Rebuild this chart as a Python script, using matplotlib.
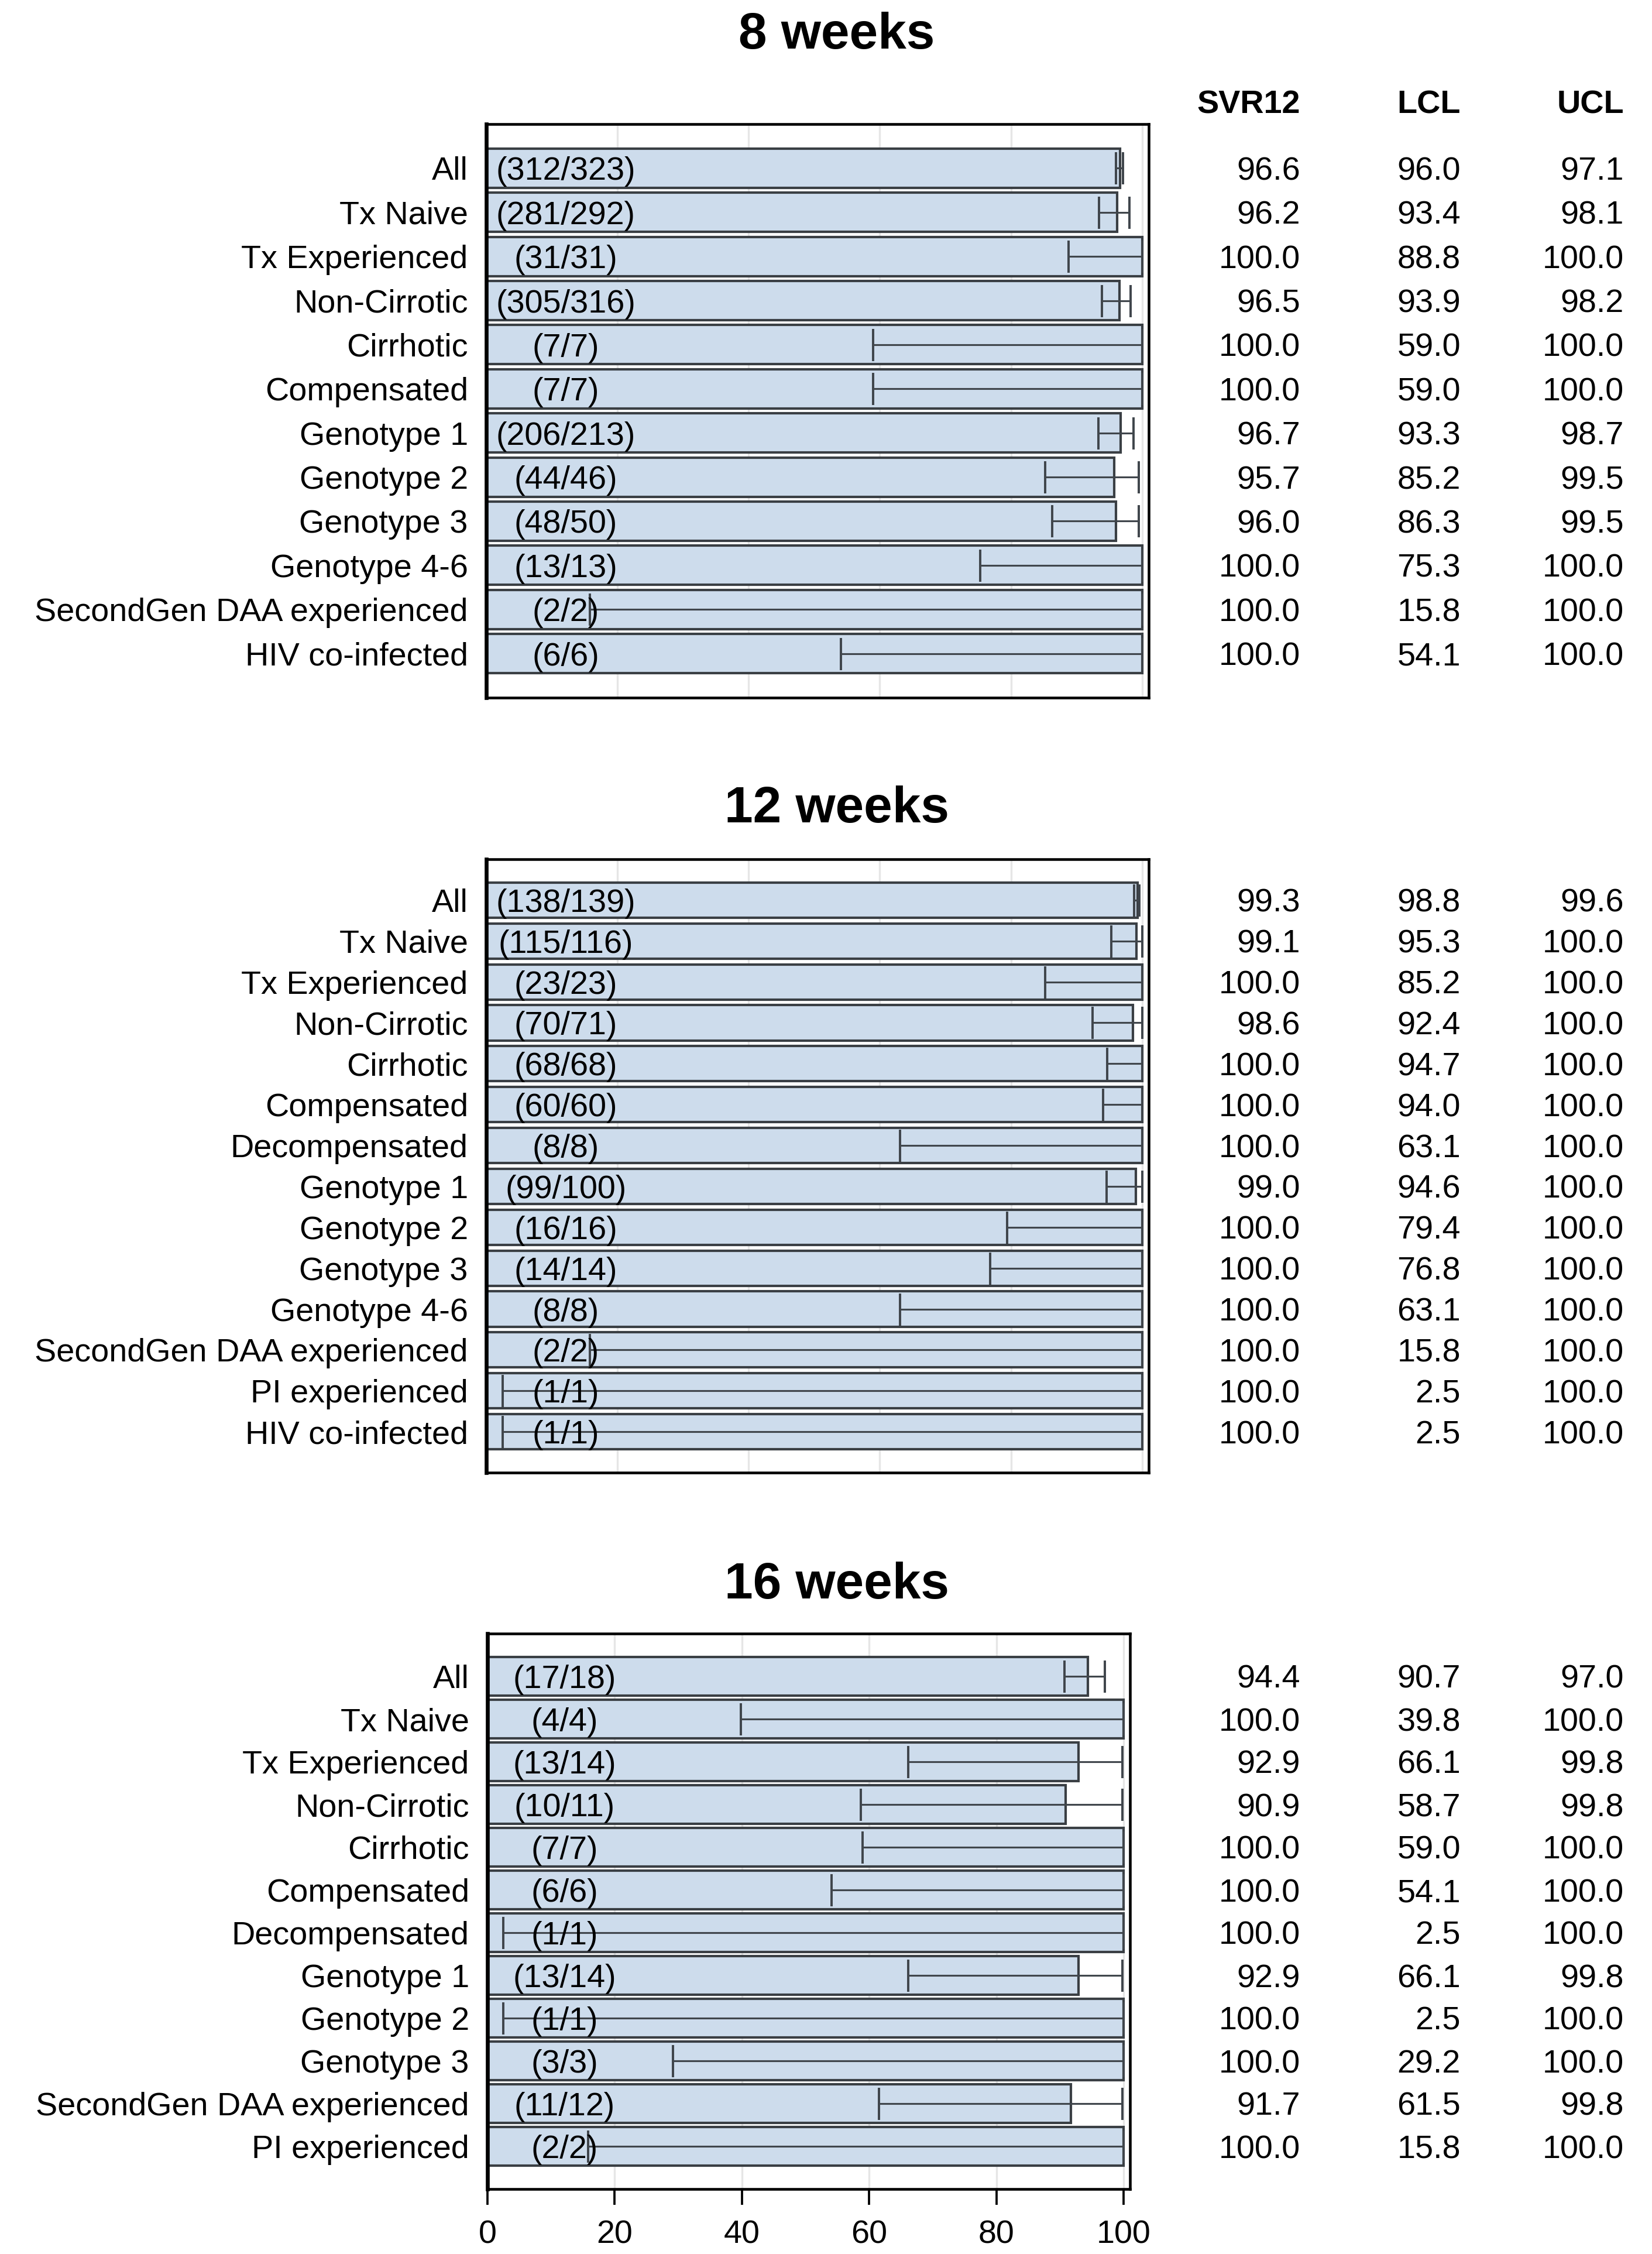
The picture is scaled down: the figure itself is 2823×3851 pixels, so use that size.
import numpy as np
import matplotlib.pyplot as plt
import matplotlib.transforms as mtransforms

plt.rcParams['font.family'] = ['Liberation Sans', 'DejaVu Sans']

# ---- data: 8 weeks
labels_8 = ['All', 'Tx Naive', 'Tx Experienced', 'Non-Cirrotic', 'Cirrhotic', 'Compensated',
            'Genotype 1', 'Genotype 2', 'Genotype 3', 'Genotype 4-6',
            'SecondGen DAA experienced', 'HIV co-infected']
counts_8 = ['(312/323)', '(281/292)', '(31/31)', '(305/316)', '(7/7)', '(7/7)',
            '(206/213)', '(44/46)', '(48/50)', '(13/13)', '(2/2)', '(6/6)']
svr_8 = [96.6, 96.2, 100.0, 96.5, 100.0, 100.0, 96.7, 95.7, 96.0, 100.0, 100.0, 100.0]
lcl_8 = [96.0, 93.4, 88.8, 93.9, 59.0, 59.0, 93.3, 85.2, 86.3, 75.3, 15.8, 54.1]
ucl_8 = [97.1, 98.1, 100.0, 98.2, 100.0, 100.0, 98.7, 99.5, 99.5, 100.0, 100.0, 100.0]

# ---- data: 12 weeks
labels_12 = ['All', 'Tx Naive', 'Tx Experienced', 'Non-Cirrotic', 'Cirrhotic', 'Compensated',
             'Decompensated', 'Genotype 1', 'Genotype 2', 'Genotype 3', 'Genotype 4-6',
             'SecondGen DAA experienced', 'PI experienced', 'HIV co-infected']
counts_12 = ['(138/139)', '(115/116)', '(23/23)', '(70/71)', '(68/68)', '(60/60)', '(8/8)',
             '(99/100)', '(16/16)', '(14/14)', '(8/8)', '(2/2)', '(1/1)', '(1/1)']
svr_12 = [99.3, 99.1, 100.0, 98.6, 100.0, 100.0, 100.0, 99.0, 100.0, 100.0, 100.0, 100.0, 100.0, 100.0]
lcl_12 = [98.8, 95.3, 85.2, 92.4, 94.7, 94.0, 63.1, 94.6, 79.4, 76.8, 63.1, 15.8, 2.5, 2.5]
ucl_12 = [99.6, 100.0, 100.0, 100.0, 100.0, 100.0, 100.0, 100.0, 100.0, 100.0, 100.0, 100.0, 100.0, 100.0]

# ---- data: 16 weeks
labels_16 = ['All', 'Tx Naive', 'Tx Experienced', 'Non-Cirrotic', 'Cirrhotic', 'Compensated',
             'Decompensated', 'Genotype 1', 'Genotype 2', 'Genotype 3',
             'SecondGen DAA experienced', 'PI experienced']
counts_16 = ['(17/18)', '(4/4)', '(13/14)', '(10/11)', '(7/7)', '(6/6)', '(1/1)',
             '(13/14)', '(1/1)', '(3/3)', '(11/12)', '(2/2)']
svr_16 = [94.4, 100.0, 92.9, 90.9, 100.0, 100.0, 100.0, 92.9, 100.0, 100.0, 91.7, 100.0]
lcl_16 = [90.7, 39.8, 66.1, 58.7, 59.0, 54.1, 2.5, 66.1, 2.5, 29.2, 61.5, 15.8]
ucl_16 = [97.0, 100.0, 99.8, 99.8, 100.0, 100.0, 100.0, 99.8, 100.0, 100.0, 99.8, 100.0]

headers = ['SVR12', 'LCL', 'UCL']
xticks = [0, 20, 40, 60, 80, 100]

W, H = 2823, 3851
fig = plt.figure(figsize=(W / 300, H / 300), dpi=300)

fill = '#cddcec'
edge = '#3a3f44'
fs = 13.4

# (title, labels, counts, svr, lcl, ucl, [left, top, right, bottom] px, title y px, bar height, show x axis)
panels = [
    ('8 weeks', labels_8, counts_8, svr_8, lcl_8, ucl_8, [831, 212, 1963, 1192], 61, 0.89, False),
    ('12 weeks', labels_12, counts_12, svr_12, lcl_12, ucl_12, [831, 1468, 1963, 2516], 1383, 0.86, False),
    ('16 weeks', labels_16, counts_16, svr_16, lcl_16, ucl_16, [833, 2791, 1931, 3740], 2708, 0.91, True),
]

col_x = [2222 / W, 2496 / W, 2775 / W]

for title, labs, cnts, s, lo, hi, box, ty, bh, showx in panels:
    l, t, r, b = box
    ax = fig.add_axes([l / W, 1 - b / H, (r - l) / W, (b - t) / H])
    s = np.array(s); lo = np.array(lo); hi = np.array(hi)
    rows = np.arange(len(labs))
    ax.barh(rows, s, height=bh, color=fill, edgecolor=edge, linewidth=1.0, zorder=2)
    ax.errorbar(s, rows, xerr=[s - lo, hi - s], fmt='none', ecolor='#40464c',
                elinewidth=0.75, capsize=6.6, capthick=0.95, zorder=3)
    for i, c in enumerate(cnts):
        ax.text(0.12, i, c, transform=mtransforms.blended_transform_factory(ax.transAxes, ax.transData),
                ha='center', va='center_baseline', fontsize=fs, zorder=4)
    ax.set_xlim(0, 101)
    ax.set_ylim(len(labs), -1)
    ax.set_yticks(rows)
    ax.set_yticklabels(labs, fontsize=fs)
    ax.tick_params(axis='y', length=0, pad=7.5)
    ax.set_xticks(xticks)
    ax.set_axisbelow(True)
    ax.xaxis.grid(True, color='#e6e6e6', linewidth=0.8)
    if showx:
        ax.tick_params(axis='x', length=6.5, width=0.9, labelsize=fs, pad=6)
    else:
        ax.tick_params(axis='x', length=0, labelbottom=False)
    for sp in ax.spines.values():
        sp.set_linewidth(1.1)
        sp.set_color('black')
    ax.spines['left'].set_linewidth(1.6)
    fig.text(1430 / W, 1 - ty / H, title, ha='center', va='center', fontsize=21, fontweight='bold')
    tr = mtransforms.blended_transform_factory(fig.transFigure, ax.transData)
    for i in rows:
        for cx, v in zip(col_x, (s[i], lo[i], hi[i])):
            ax.text(cx, i, f'{v:.1f}', transform=tr, ha='right', va='center_baseline',
                    fontsize=fs, clip_on=False)

for cx, h in zip(col_x, headers):
    fig.text(cx, 1 - 180 / H, h, ha='right', va='center', fontsize=fs, fontweight='bold')

fig.savefig('out.png', dpi=300)
